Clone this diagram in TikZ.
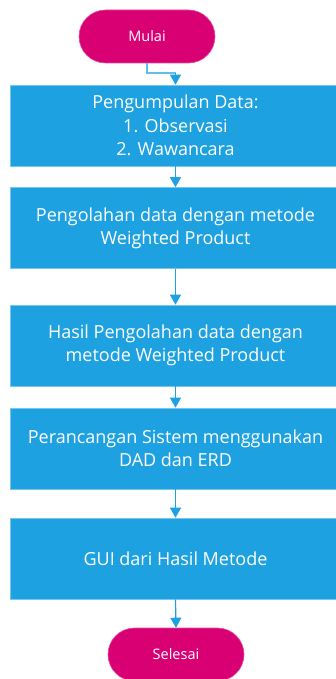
\documentclass[tikz,border=0pt]{standalone}
\usepackage{fontspec}
\setmainfont{Open Sans}
\usetikzlibrary{arrows.meta,shapes.misc}
\definecolor{boxblue}{RGB}{29,161,224}
\definecolor{termred}{RGB}{216,0,115}
\definecolor{linkblue}{RGB}{29,161,224}
\tikzset{
  stepbox/.style={rectangle, fill=boxblue, draw=boxblue!60!white, line width=0.6pt,
    minimum width=330pt, minimum height=81pt, text=white, align=center,
    font=\fontsize{18}{23.3}\selectfont, inner sep=0pt},
  term/.style={rounded rectangle, fill=termred, draw=termred!70!white, line width=0.6pt,
    minimum width=136pt, minimum height=53pt, text=white,
    font=\fontsize{14.5}{17}\selectfont, inner sep=0pt},
  link/.style={draw=linkblue, line width=1.2pt, -{Triangle[width=11pt,length=10pt]}}
}
\begin{document}
\begin{tikzpicture}[x=1pt,y=-1pt]
\useasboundingbox (0,0) rectangle (336,679);
\node[term] (mulai) at (147,36.5) {Mulai};
\node[stepbox] (s1) at (175.5,125.5) {Pengumpulan Data:\\1. Observasi\\2. Wawancara};
\node[stepbox] (s2) at (175.5,228) {Pengolahan data dengan metode\\Weighted Product};
\node[stepbox] (s3) at (175.5,345.5) {Hasil Pengolahan data dengan\\metode Weighted Product};
\node[stepbox] (s4) at (175.5,448.5) {Perancangan Sistem menggunakan\\DAD dan ERD};
\node[stepbox] (s5) at (175.5,558.5) {GUI dari Hasil Metode};
\node[term] (selesai) at (176,654.5) {Selesai};
\coordinate (k1) at (147,73);
\coordinate (k2) at (175.5,73);
\draw[draw=linkblue!70!white, line width=1.2pt] (mulai.south) -- (k1) -- (k2);
\draw[link] (k2) -- (s1.north);
\draw[link] (s1.south) -- (s2.north);
\draw[link] (s2.south) -- (s3.north);
\draw[link] (s3.south) -- (s4.north);
\draw[link] (s4.south) -- (s5.north);
\draw[link] (s5.south) -- (selesai.north);
\end{tikzpicture}
\end{document}
